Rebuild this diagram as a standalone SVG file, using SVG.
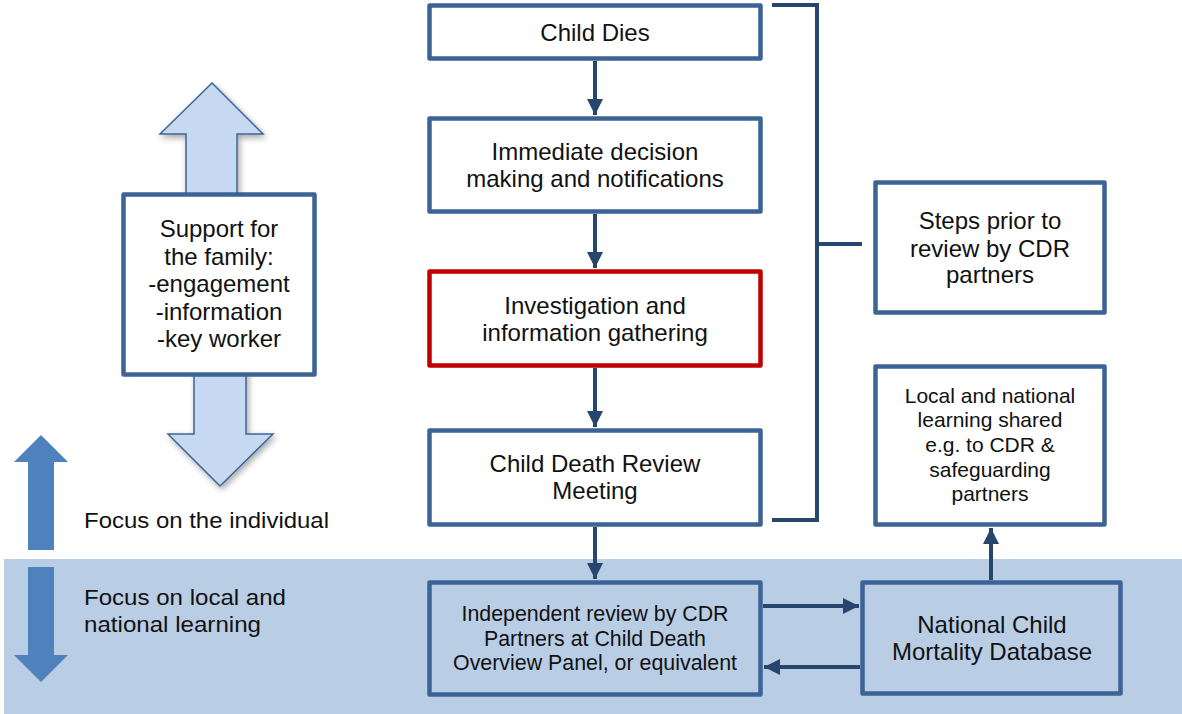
<svg xmlns="http://www.w3.org/2000/svg" width="1182" height="714" viewBox="0 0 1182 714">
<style>
.box{fill:#FFFFFF;stroke:#3B6395;stroke-width:4.5;stroke-linejoin:round}
.bandbox{fill:#B9CDE5;stroke:#3B6395;stroke-width:4.5;stroke-linejoin:round}
.red{fill:#FFFFFF;stroke:#C00000;stroke-width:4.5;stroke-linejoin:round}
.t{font-family:"Liberation Sans",Arial,sans-serif;font-size:24px;fill:#111111;text-anchor:middle}
.tn{font-family:"Liberation Sans",Arial,sans-serif;font-size:22px;fill:#111111;text-anchor:middle}
.ts{font-family:"Liberation Sans",Arial,sans-serif;font-size:21px;fill:#111111;text-anchor:middle}
.tl{font-family:"Liberation Sans",Arial,sans-serif;font-size:22px;fill:#111111}
.conn{fill:none;stroke:#27466D;stroke-width:4}
.big{fill:#C6D9F1;stroke:#3E6599;stroke-width:1.5;stroke-linejoin:miter}
.dark{fill:#4F81BD}
</style>
<defs>
<marker id="ah" viewBox="0 0 10 10" refX="10" refY="5" markerWidth="4" markerHeight="4" markerUnits="strokeWidth" orient="auto">
<path d="M0,0 L10,5 L0,10 Z" fill="#27466D"/>
</marker>
<filter id="sh" x="-30%" y="-30%" width="160%" height="160%">
<feDropShadow dx="2" dy="3" stdDeviation="3" flood-color="#000000" flood-opacity="0.35"/>
</filter>
</defs>
<rect id="band" x="4" y="559" width="1178" height="155" fill="#B9CDE5"/>
<g id="focus-arrows">
<polygon class="dark" points="41,435 68,462 54,462 54,550 28,550 28,462 14,462"/>
<polygon class="dark" points="28,567 54,567 54,655 68,655 41,682 14,655 28,655"/>
</g>
<g id="focus-individual"><text class="tl" x="84" y="528" textLength="245" lengthAdjust="spacingAndGlyphs">Focus on the individual</text></g>
<g id="focus-learning"><text class="tl" x="84" y="605" textLength="202" lengthAdjust="spacingAndGlyphs">Focus on local and</text><text class="tl" x="84" y="632" textLength="177" lengthAdjust="spacingAndGlyphs">national learning</text></g>
<g id="family-arrows" filter="url(#sh)">
<polygon class="big" points="212,83 263,134 237,134 237,200 186,200 186,134 160,134"/>
<polygon class="big" points="194,370 246,370 246,434 273,434 220,486 168,434 194,434"/>
</g>
<g id="support">
<rect class="box" x="123.5" y="194.5" width="191" height="180"/>
<text class="t" x="219" y="237">Support for</text>
<text class="t" x="219" y="265">the family:</text>
<text class="t" x="219" y="292">-engagement</text>
<text class="t" x="219" y="320">-information</text>
<text class="t" x="219" y="347">-key worker</text>
</g>
<g id="connectors">
<line class="conn" x1="595" y1="61" x2="595" y2="115" marker-end="url(#ah)"/>
<line class="conn" x1="595" y1="214" x2="595" y2="268" marker-end="url(#ah)"/>
<line class="conn" x1="595" y1="368" x2="595" y2="427" marker-end="url(#ah)"/>
<line class="conn" x1="595" y1="527" x2="595" y2="579" marker-end="url(#ah)"/>
<line class="conn" x1="763" y1="606" x2="859" y2="606" marker-end="url(#ah)"/>
<line class="conn" x1="860" y1="667" x2="764" y2="667" marker-end="url(#ah)"/>
<line class="conn" x1="991" y1="580" x2="991" y2="528" marker-end="url(#ah)"/>
<path class="conn" d="M772,5 H817 V520 H772 M817,244 H862"/>
</g>
<g id="child-dies">
<rect class="box" x="429.5" y="5.5" width="331" height="53"/>
<text class="t" x="595" y="41">Child Dies</text>
</g>
<g id="immediate">
<rect class="box" x="429.5" y="118.5" width="331" height="93"/>
<text class="t" x="595" y="160">Immediate decision</text>
<text class="t" x="595" y="187">making and notifications</text>
</g>
<g id="investigation">
<rect class="red" x="429.5" y="271.5" width="331" height="94"/>
<text class="t" x="595" y="314">Investigation and</text>
<text class="t" x="595" y="341">information gathering</text>
</g>
<g id="cdr-meeting">
<rect class="box" x="429.5" y="430.5" width="331" height="94"/>
<text class="t" x="595" y="472">Child Death Review</text>
<text class="t" x="595" y="499">Meeting</text>
</g>
<g id="independent">
<rect class="bandbox" x="429.5" y="582.5" width="331" height="112"/>
<text class="tn" x="595" y="621" textLength="267" lengthAdjust="spacingAndGlyphs">Independent review by CDR</text>
<text class="tn" x="595" y="646" textLength="222" lengthAdjust="spacingAndGlyphs">Partners at Child Death</text>
<text class="tn" x="595" y="670" textLength="284" lengthAdjust="spacingAndGlyphs">Overview Panel, or equivalent</text>
</g>
<g id="ncmd">
<rect class="bandbox" x="862.5" y="582.5" width="258" height="111"/>
<text class="t" x="992" y="633">National Child</text>
<text class="t" x="992" y="660">Mortality Database</text>
</g>
<g id="steps">
<rect class="box" x="875.5" y="182.5" width="229" height="130"/>
<text class="t" x="990" y="229">Steps prior to</text>
<text class="t" x="990" y="257">review by CDR</text>
<text class="t" x="990" y="283">partners</text>
</g>
<g id="local">
<rect class="box" x="875.5" y="366.5" width="229" height="158"/>
<text class="ts" x="990" y="403">Local and national</text>
<text class="ts" x="990" y="427">learning shared</text>
<text class="ts" x="990" y="452">e.g. to CDR &amp;</text>
<text class="ts" x="990" y="477">safeguarding</text>
<text class="ts" x="990" y="501">partners</text>
</g>
</svg>
